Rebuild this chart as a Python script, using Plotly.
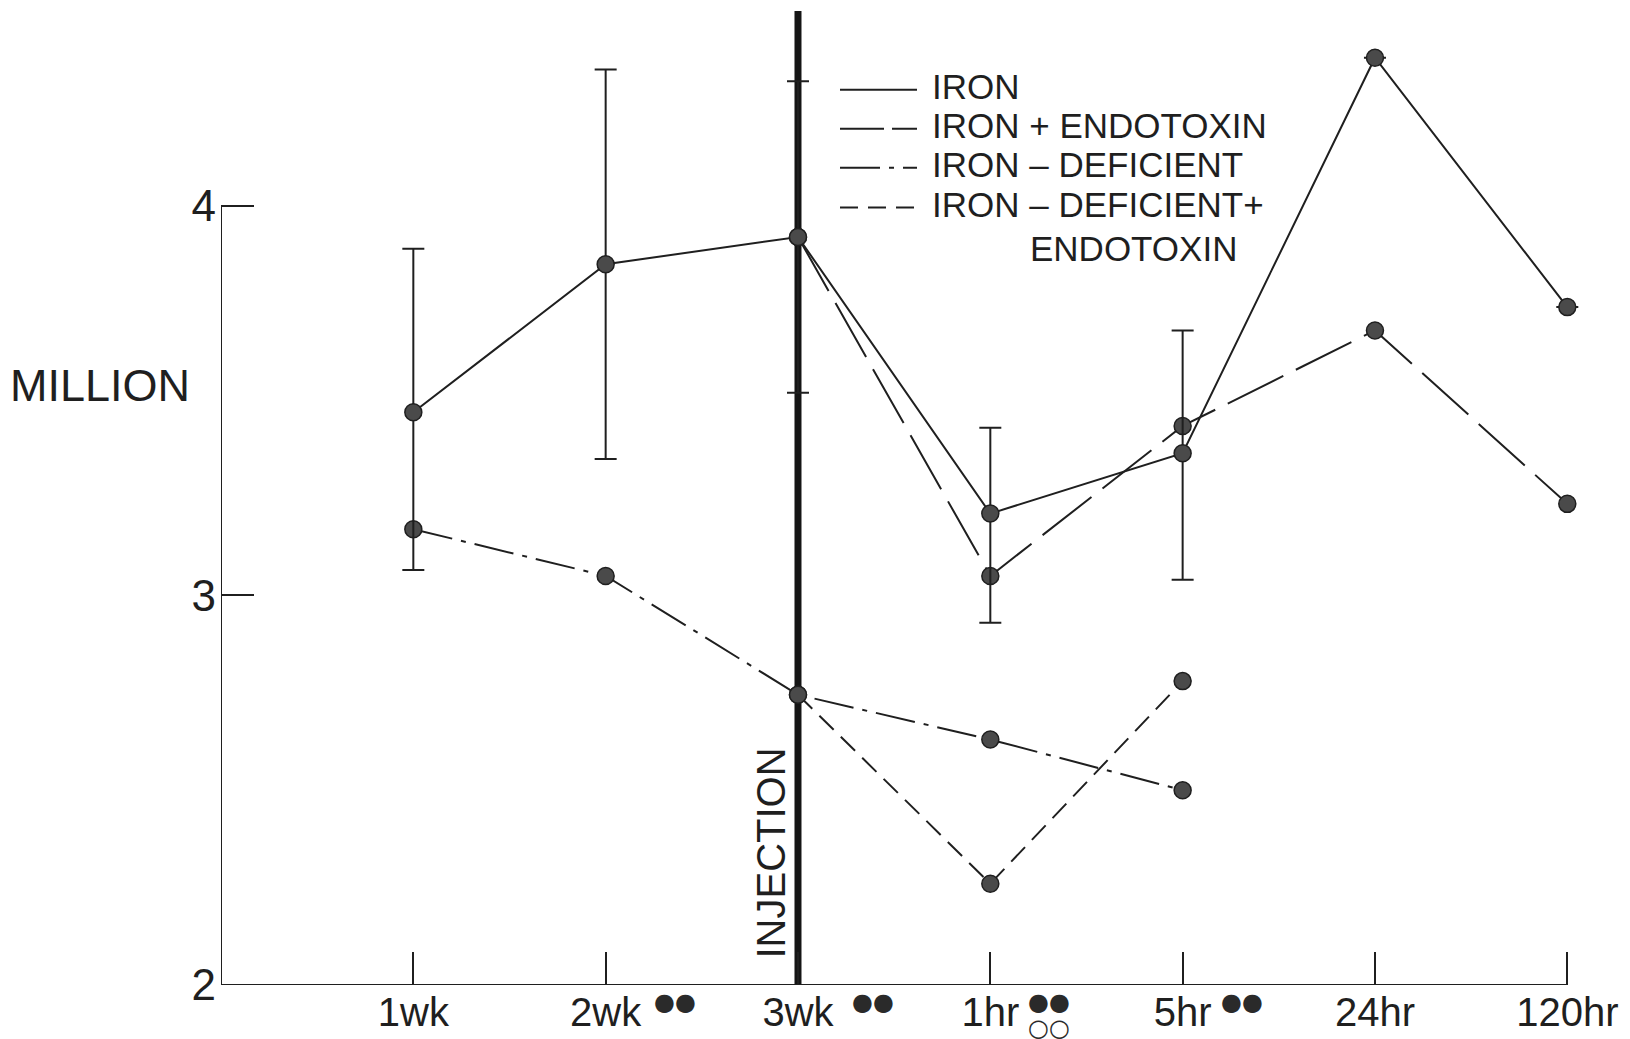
import plotly.graph_objects as go

# ---- data -------------------------------------------------------------
categories = ["1wk", "2wk", "3wk", "1hr", "5hr", "24hr", "120hr"]

iron = [3.47, 3.85, 3.92, 3.21, 3.365, 4.38, 3.74]
iron_err_hi = [3.89, 4.35, 4.32, 3.43, 3.68, None, None]
iron_err_lo = [3.065, 3.35, 3.52, 2.93, 3.04, None, None]

iron_endo_x = ["3wk", "1hr", "5hr", "24hr", "120hr"]
iron_endo = [3.92, 3.05, 3.435, 3.68, 3.235]

iron_def_x = ["1wk", "2wk", "3wk", "1hr", "5hr"]
iron_def = [3.17, 3.05, 2.745, 2.63, 2.50]

iron_def_endo_x = ["3wk", "1hr", "5hr"]
iron_def_endo = [2.745, 2.26, 2.78]

y_ticks = [2, 3, 4]
injection_at = "3wk"

legend_rows = ["IRON", "IRON + ENDOTOXIN", "IRON – DEFICIENT", "IRON – DEFICIENT+"]
legend_extra = "ENDOTOXIN"

# significance dots next to the time labels
sig_top = {"2wk": "●●", "3wk": "●●", "1hr": "●●", "5hr": "●●"}
sig_bottom = {"1hr": "○○"}

# ---- styling / geometry -----------------------------------------------
W, H = 1630, 1039
M_L, M_R, M_T, M_B = 221, 5, 11, 52
PW = W - M_L - M_R
PH = H - M_T - M_B
PB = H - M_B
INK = "#1f1f1f"
FONT = "Liberation Sans"

DASH_IRON = "solid"
DASH_IRON_ENDO = "62px,14px"
DASH_DEF = "40px,9px,5px,9px"
DASH_DEF_ENDO = "20px,10px"


def px(x):
    return (x - M_L) / PW


def py(y):
    return (PB - y) / PH


marker = dict(size=17, color="#4a4a4a", line=dict(color=INK, width=1.5))

err_plus = [None if h is None else h - v for h, v in zip(iron_err_hi, iron)]
err_minus = [None if l is None else v - l for l, v in zip(iron_err_lo, iron)]

fig = go.Figure()

fig.add_trace(go.Scatter(
    x=iron_def_x, y=iron_def, mode="lines+markers",
    line=dict(color=INK, width=2, dash=DASH_DEF), marker=marker,
    name="IRON – DEFICIENT", cliponaxis=False))
fig.add_trace(go.Scatter(
    x=iron_def_endo_x, y=iron_def_endo, mode="lines+markers",
    line=dict(color=INK, width=2, dash=DASH_DEF_ENDO), marker=marker,
    name="IRON – DEFICIENT + ENDOTOXIN", cliponaxis=False))
fig.add_trace(go.Scatter(
    x=iron_endo_x, y=iron_endo, mode="lines+markers",
    line=dict(color=INK, width=2, dash=DASH_IRON_ENDO), marker=marker,
    name="IRON + ENDOTOXIN", cliponaxis=False))
fig.add_trace(go.Scatter(
    x=categories, y=iron, mode="lines+markers",
    line=dict(color=INK, width=2, dash=DASH_IRON), marker=marker,
    error_y=dict(type="data", symmetric=False, array=err_plus,
                 arrayminus=err_minus, color=INK, thickness=2, width=11),
    name="IRON", cliponaxis=False))

shapes = []
# injection marker line
shapes.append(dict(type="line", xref="x", yref="y",
                   x0=injection_at, x1=injection_at, y0=1.985, y1=4.5,
                   line=dict(color="#151515", width=7), layer="below"))
# axis lines (y axis spans 2..4, x axis spans to the last category)
shapes.append(dict(type="line", xref="x", yref="y", x0=-1, x1=-1,
                   y0=y_ticks[0], y1=y_ticks[-1],
                   line=dict(color=INK, width=2)))
shapes.append(dict(type="line", xref="x", yref="y", x0=-1,
                   x1=len(categories) - 1, y0=y_ticks[0], y1=y_ticks[0],
                   line=dict(color=INK, width=2)))

# legend samples (short key lines, so the long-dash key gets a tighter rhythm)
legend_dashes = [DASH_IRON, "44px,8px", DASH_DEF, "18px,10px"]
row_y = [90, 129, 168, 208]
annotations = []
for lbl, dash, ry in zip(legend_rows, legend_dashes, row_y):
    shapes.append(dict(type="line", xref="paper", yref="paper",
                       x0=px(840), x1=px(917), y0=py(ry), y1=py(ry),
                       line=dict(color=INK, width=2, dash=dash)))
    annotations.append(dict(xref="paper", yref="paper", x=px(930), y=py(ry - 3),
                            text=lbl, showarrow=False, xanchor="left",
                            yanchor="middle",
                            font=dict(family=FONT, size=35, color=INK)))
annotations.append(dict(xref="paper", yref="paper", x=px(1028), y=py(249),
                        text=legend_extra, showarrow=False, xanchor="left",
                        yanchor="middle",
                        font=dict(family=FONT, size=35, color=INK)))

# y-axis unit label
annotations.append(dict(xref="paper", yref="paper", x=px(100), y=py(386),
                        text="MILLION", showarrow=False, xanchor="center",
                        yanchor="middle",
                        font=dict(family=FONT, size=45, color=INK)))

# injection caption along the line
annotations.append(dict(xref="x", yref="y", x=injection_at, y=2.34,
                        xshift=-27, text="INJECTION", textangle=-90,
                        showarrow=False,
                        font=dict(family=FONT, size=40, color=INK)))

sig_shift = {"2wk": 46, "3wk": 52, "1hr": 36, "5hr": 36}
for cat, mark in sig_top.items():
    annotations.append(dict(xref="x", yref="paper", x=cat, y=py(1004),
                            xshift=sig_shift[cat], text=mark, showarrow=False,
                            xanchor="left", yanchor="middle",
                            font=dict(family="DejaVu Sans", size=24, color="#2a2a2a")))
for cat, mark in sig_bottom.items():
    annotations.append(dict(xref="x", yref="paper", x=cat, y=py(1030),
                            xshift=sig_shift[cat], text=mark, showarrow=False,
                            xanchor="left", yanchor="middle",
                            font=dict(family="DejaVu Sans", size=24, color="#2a2a2a")))

fig.update_layout(
    width=W, height=H,
    margin=dict(l=M_L, r=M_R, t=M_T, b=M_B, pad=0),
    paper_bgcolor="white", plot_bgcolor="white",
    showlegend=False,
    shapes=shapes, annotations=annotations,
    font=dict(family=FONT, color=INK),
)
fig.update_xaxes(
    type="category", categoryorder="array", categoryarray=categories,
    range=[-1, 6.3], showgrid=False, zeroline=False, showline=False,
    ticks="inside", ticklen=33, tickwidth=2, tickcolor=INK,
    tickfont=dict(family=FONT, size=40, color=INK),
)
fig.update_yaxes(
    range=[2, 2 + PH / 390.4], tickvals=y_ticks,
    showgrid=False, zeroline=False, showline=False,
    ticks="inside", ticklen=33, tickwidth=2, tickcolor=INK,
    ticklabelstandoff=4,
    tickfont=dict(family=FONT, size=44, color=INK),
)

fig.write_html("out.html")
